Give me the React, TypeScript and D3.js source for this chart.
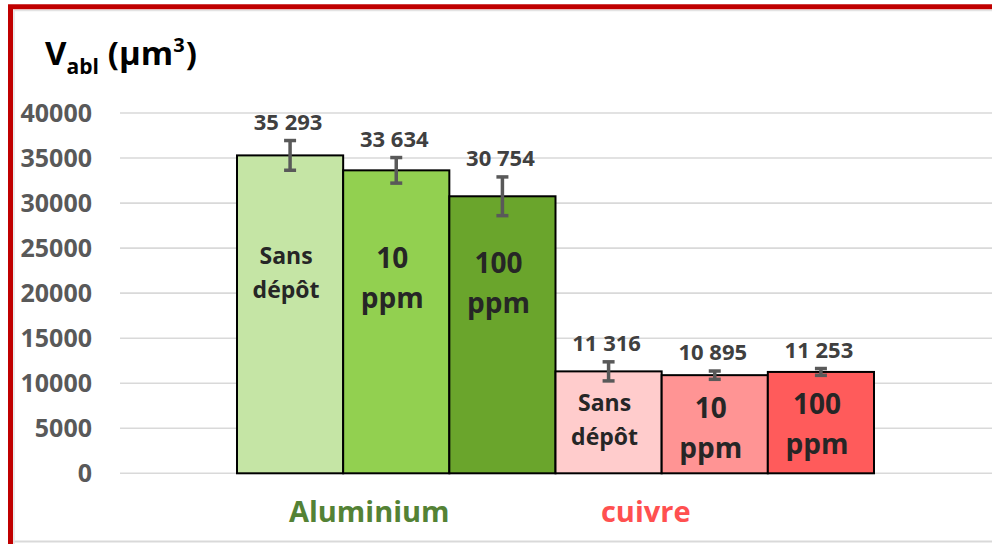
import React from "react";
import * as d3 from "d3";

const groups = ["Aluminium", "cuivre"];
const seriesNames = ["Sans dépôt", "10 ppm", "100 ppm"];
const aluminiumValues = [35293, 33634, 30754];
const cuivreValues = [11316, 10895, 11253];
const aluminiumErrors = [1650, 1420, 2150];
const cuivreErrors = [1060, 460, 380];
const yTicks = [0, 5000, 10000, 15000, 20000, 25000, 30000, 35000, 40000];
const innerLabels = [
  ["Sans", "dépôt"],
  ["10", "ppm"],
  ["100", "ppm"],
];
const aluminiumColors = ["#C5E5A5", "#92D050", "#6AA52C"];
const cuivreColors = ["#FFCCCC", "#FF9494", "#FF5B5B"];

const W = 992;
const H = 544;
const FONT = "'Open Sans', 'DejaVu Sans', sans-serif";

export default function App() {
  const y = d3.scaleLinear().domain([0, 40000]).range([473.3, 113]);
  const xGroup = d3.scaleBand<string>().domain(groups).range([237, 874]).paddingInner(0);
  const xSeries = d3
    .scaleBand<string>()
    .domain(seriesNames)
    .range([0, xGroup.bandwidth()])
    .padding(0);

  const groupData = [
    { name: groups[0], values: aluminiumValues, errors: aluminiumErrors, colors: aluminiumColors, labelColor: "#548235", labelDx: -27, innerAnchor: [23235, 22790, 22235] },
    { name: groups[1], values: cuivreValues, errors: cuivreErrors, colors: cuivreColors, labelColor: "#FF5050", labelDx: -69, innerAnchor: [6916, 6139, 6583] },
  ];

  const fmt = (v: number) => d3.format(",")(v).replace(",", " ");

  return (
    <div style={{ position: "absolute", left: 0, top: 0, width: W, height: H, background: "#fff" }}>
      <svg width={W} height={H} style={{ display: "block" }} fontFamily={FONT}>
        <rect x={0} y={0} width={W} height={H} fill="#fff" />
        {/* chart area borders */}
        <line x1={13} x2={W} y1={541.5} y2={541.5} stroke="#D9D9D9" strokeWidth={2} />
        <line x1={14} x2={W} y1={10.5} y2={10.5} stroke="#E3E3E3" strokeWidth={1.5} />
        <line x1={14} x2={14} y1={10} y2={H} stroke="#E3E3E3" strokeWidth={1.5} />
        <path d={`M10.5,${H} L10.5,6.7 L${W},6.7`} fill="none" stroke="#C00000" strokeWidth={5} />

        {/* title */}
        <text x={45} y={65} fontSize={33} fontWeight={700} fill="#000">
          V
          <tspan fontSize={21} dy={9}>abl</tspan>
          <tspan dy={-9} dx={9}>(µm</tspan>
          <tspan fontSize={20} dy={-13}>3</tspan>
          <tspan dy={13} dx={1}>)</tspan>
        </text>

        {/* gridlines and y ticks */}
        {yTicks.map((t) => (
          <g key={t}>
            <line x1={120} x2={W} y1={y(t)} y2={y(t)} stroke="#D9D9D9" strokeWidth={1.6} />
            <text x={92} y={y(t)} dy="0.36em" textAnchor="end" fontSize={25} fontWeight={700} fill="#595959">
              {t}
            </text>
          </g>
        ))}

        {/* bars */}
        {groupData.map((g) => {
          const gx = xGroup(g.name)!;
          return (
            <g key={g.name}>
              {g.values.map((v, i) => {
                const bx = gx + xSeries(seriesNames[i])!;
                const bw = xSeries.bandwidth();
                const cx = bx + bw / 2;
                const err = g.errors[i];
                const big = i > 0;
                const anchorY = y(g.innerAnchor[i]);
                return (
                  <g key={i}>
                    <rect x={bx} y={y(v)} width={bw} height={y(0) - y(v)} fill={g.colors[i]} stroke="#000" strokeWidth={2} />
                    <line x1={cx} x2={cx} y1={y(v + err)} y2={y(v - err)} stroke="#595959" strokeWidth={3.5} />
                    <line x1={cx - 6} x2={cx + 6} y1={y(v + err)} y2={y(v + err)} stroke="#595959" strokeWidth={3.5} />
                    <line x1={cx - 6} x2={cx + 6} y1={y(v - err)} y2={y(v - err)} stroke="#595959" strokeWidth={3.5} />
                    <text x={cx - 2} y={y(v + err) - 11} textAnchor="middle" fontSize={22} fontWeight={700} fill="#404040">
                      {fmt(v)}
                    </text>
                    <text x={cx - 4} y={anchorY} textAnchor="middle" fontSize={big ? 28 : 23} fontWeight={700} fill="#262626">
                      {innerLabels[i][0]}
                    </text>
                    <text x={cx - 4} y={anchorY + (big ? 40 : 34)} textAnchor="middle" fontSize={big ? 28 : 23} fontWeight={700} fill="#262626">
                      {innerLabels[i][1]}
                    </text>
                  </g>
                );
              })}
              <text
                x={gx + xGroup.bandwidth() / 2 + g.labelDx}
                y={522}
                textAnchor="middle"
                fontSize={29}
                fontWeight={700}
                fill={g.labelColor}
              >
                {g.name}
              </text>
            </g>
          );
        })}
      </svg>
    </div>
  );
}
